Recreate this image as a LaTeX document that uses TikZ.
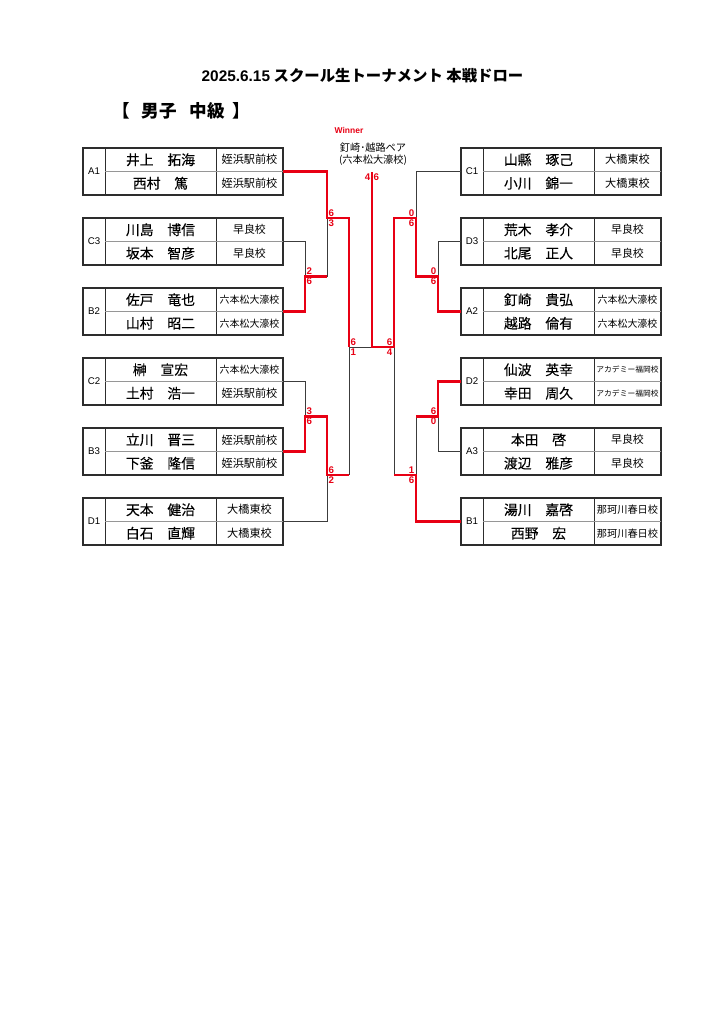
\documentclass[tikz,border=0pt]{standalone}
\usepackage{fontspec}
\setmainfont{Liberation Sans}
\newfontfamily\jp{Noto Sans CJK JP}
\newfontfamily\jpn[FakeBold=0.12]{Noto Sans CJK JP}
\def\px{0.8222bp}
\definecolor{rd}{RGB}{232,0,20}
\definecolor{ln}{RGB}{60,60,60}
\definecolor{bx}{RGB}{45,45,45}
\definecolor{dv}{RGB}{150,150,150}
\tikzset{
  outerbox/.style={draw=bx,line width=0.9bp,minimum width=200*\px,minimum height=47*\px,inner sep=0pt,outer sep=0pt},
  divl/.style={draw=bx,line width=0.8bp},
  divm/.style={draw=dv,line width=0.5bp},
  labtxt/.style={font=\normalfont\fontsize{8}{8}\selectfont,inner sep=0pt},
  nmtxt/.style={font=\jpn\fontsize{11.4}{11.4}\selectfont,inner sep=0pt},
  sctxt/.style={inner sep=0pt},
  redline/.style={draw=rd,line width=1.7bp},
  blkline/.style={draw=ln,line width=0.8bp},
  score/.style={font=\normalfont\bfseries\fontsize{8}{8}\selectfont,text=rd,inner sep=1.2bp}
}
% #1 name, #2 x0, #3 top, #4 label, #5 n1, #6 n2, #7 s1, #8 s2, #9 school size
\newcommand\tbox[9]{%
  \node[outerbox] (#1) at ({#2+100},{#3+23.5}) {};
  \draw[divl] ({#2+22},#3) -- ({#2+22},{#3+47});
  \draw[divl] ({#2+133},#3) -- ({#2+133},{#3+47});
  \draw[divm] ({#2+22},{#3+23.5}) -- ({#2+200},{#3+23.5});
  \node[labtxt] (#1l) at ({#2+11},{#3+23.5}) {#4};
  \node[nmtxt] (#1a) at ({#2+77.5},{#3+11.75}) {#5};
  \node[nmtxt] (#1b) at ({#2+77.5},{#3+35.25}) {#6};
  \node[sctxt,font=\jp\fontsize{#9}{#9}\selectfont] (#1c) at ({#2+166.5},{#3+11.75}) {#7};
  \node[sctxt,font=\jp\fontsize{#9}{#9}\selectfont] (#1d) at ({#2+166.5},{#3+35.25}) {#8};
}
\newcommand\scL[3]{%
  \node[score,anchor=south west] (#1t) at (#1) {#2};
  \node[score,anchor=north west] (#1u) at (#1) {#3};
}
\newcommand\scR[3]{%
  \node[score,anchor=south east] (#1t) at (#1) {#2};
  \node[score,anchor=north east] (#1u) at (#1) {#3};
}
\begin{document}
\begin{tikzpicture}[x=0.8222bp,y=-0.8222bp]
\useasboundingbox[fill=white] (0,0) rectangle (724,1024);

% titles
\node[font=\jp\bfseries\fontsize{12.7}{12.7}\selectfont] (title) at (362.5,76) {{\normalfont\bfseries 2025.6.15} スクール生トーナメント 本戦ドロー};
\node[font=\jp\bfseries\fontsize{14.5}{14.5}\selectfont,anchor=west,inner sep=0pt] (sub) at (112,111) {【\hspace{10bp}男子\hspace{10.5bp}中級\hspace{6bp}】};

% left boxes
\tbox{A1}{83}{148}{A1}{井上　拓海}{西村　篤}{姪浜駅前校}{姪浜駅前校}{9.2}
\tbox{C3}{83}{218}{C3}{川島　博信}{坂本　智彦}{早良校}{早良校}{9}
\tbox{B2}{83}{288}{B2}{佐戸　竜也}{山村　昭二}{六本松大濠校}{六本松大濠校}{8.2}
\tbox{C2}{83}{358}{C2}{榊　宣宏}{土村　浩一}{{\fontsize{8.2}{8.2}\selectfont 六本松大濠校}}{姪浜駅前校}{9.2}
\tbox{B3}{83}{428}{B3}{立川　晋三}{下釜　隆信}{姪浜駅前校}{姪浜駅前校}{9.2}
\tbox{D1}{83}{498}{D1}{天本　健治}{白石　直輝}{大橋東校}{大橋東校}{9.2}
% right boxes
\tbox{C1}{461}{148}{C1}{山縣　琢己}{小川　錦一}{大橋東校}{大橋東校}{9.2}
\tbox{D3}{461}{218}{D3}{荒木　孝介}{北尾　正人}{早良校}{早良校}{9}
\tbox{A2}{461}{288}{A2}{釘崎　貴弘}{越路　倫有}{六本松大濠校}{六本松大濠校}{8.2}
\tbox{D2}{461}{358}{D2}{仙波　英幸}{幸田　周久}{アカデミー福岡校}{アカデミー福岡校}{6.4}
\tbox{A3}{461}{428}{A3}{本田　啓}{渡辺　雅彦}{早良校}{早良校}{9}
\tbox{B1}{461}{498}{B1}{湯川　嘉啓}{西野　宏}{那珂川春日校}{那珂川春日校}{8.4}

% junctions
\coordinate (jLa) at (305,276.5);
\coordinate (jLb) at (305,416.5);
\coordinate (jLc) at (327,218);
\coordinate (jLd) at (327,475);
\coordinate (jLe) at (349,347);
\coordinate (jF) at (372,347);
\coordinate (jFt) at (372,172);
\coordinate (jRa) at (438,276.5);
\coordinate (jRb) at (438,416.5);
\coordinate (jRc) at (416,218);
\coordinate (jRd) at (416,475);
\coordinate (jRe) at (394,347);

% black (losing) lines
\draw[blkline] (C3.east) -| (jLa);
\draw[blkline] (C2.east) -| (jLb);
\draw[blkline] (D1.east) -| (jLd);
\draw[blkline] (jLa -| jLc) -- (jLc);
\draw[blkline] (jLd -| jLe) -- (jLe) -- (jF);
\draw[blkline] (C1.west) -| (jRc);
\draw[blkline] (D3.west) -| (jRa);
\draw[blkline] (A3.west) -| (jRb);
\draw[blkline] (jRb -| jRd) -- (jRd);
\draw[blkline] (jRd -| jRe) -- (jRe);

% red (winning) lines
\draw[redline] (A1.east) -| (jLc) -| (jLe);
\draw[redline] (B2.east) -| (jLa) -- (jLa -| jLc);
\draw[redline] (B3.east) -| (jLb) -| (jLd) -- (jLd -| jLe);
\draw[redline] (A2.west) -| (jRa) -| (jRc) -| (jRe) -- (jF) -- (jFt);
\draw[redline] (D2.west) -| (jRb) -- (jRb -| jRd);
\draw[redline] (B1.west) -| (jRd) -- (jRd -| jRe);

% scores
\scL{jLa}{2}{6}
\scL{jLb}{3}{6}
\scL{jLc}{6}{3}
\scL{jLd}{6}{2}
\scL{jLe}{6}{1}
\scR{jRa}{0}{6}
\scR{jRb}{6}{0}
\scR{jRc}{0}{6}
\scR{jRd}{1}{6}
\scR{jRe}{6}{4}
\node[score,anchor=north east] (fl) at (jFt) {4};
\node[score,anchor=north west] (fr) at (jFt) {6};

% winner
\node[font=\normalfont\bfseries\fontsize{7}{7}\selectfont,text=rd,inner sep=0pt] (win) at (349,130) {Winner};
\node[font=\jp\fontsize{8.4}{8.4}\selectfont,inner sep=0pt] (wp) at (373,148) {釘崎･越路ペア};
\node[font=\jp\fontsize{8.4}{8.4}\selectfont,inner sep=0pt] (ws) at (373,160) {(六本松大濠校)};
\end{tikzpicture}
\end{document}
